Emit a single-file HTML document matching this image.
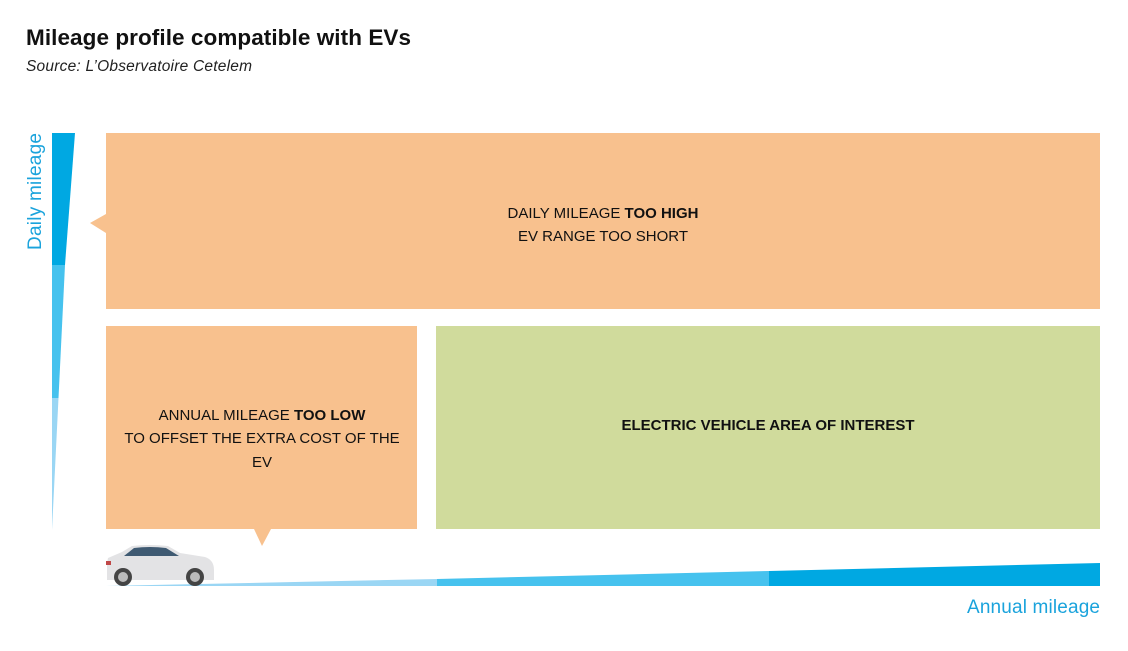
<!DOCTYPE html>
<html><head><meta charset="utf-8"><style>
html,body{margin:0;padding:0;background:#fff;}
body{width:1128px;height:646px;overflow:hidden;font-family:"Liberation Sans",sans-serif;}
</style></head><body>
<svg width="1128" height="646" xmlns="http://www.w3.org/2000/svg" font-family="Liberation Sans, sans-serif">
<text x="26" y="45" font-size="22.5" font-weight="bold" fill="#111" textLength="385">Mileage profile compatible with EVs</text>
<text x="26" y="71" font-size="15.5" font-style="italic" fill="#222" textLength="226">Source: L’Observatoire Cetelem</text>
<polygon points="52,133 75,133 65,265 52,265" fill="#00a8e2"/>
<polygon points="52,265 65,265 58.5,398 52,398" fill="#46c2ee"/>
<polygon points="52,398 58.5,398 52,530" fill="#9ad6f4"/>
<text transform="translate(41,250) rotate(-90)" font-size="19" fill="#1aa3dc" textLength="117">Daily mileage</text>
<rect x="106" y="133" width="994" height="176" fill="#f8c18e"/>
<polygon points="106,214 90,223 106,233" fill="#f8c18e"/>
<rect x="106" y="326" width="311" height="203" fill="#f8c18e"/>
<polygon points="254,529 271,529 262,546" fill="#f8c18e"/>
<rect x="436" y="326" width="664" height="203" fill="#d0db9c"/>
<g font-size="15" fill="#111" text-anchor="middle">
<text x="603" y="218">DAILY MILEAGE <tspan font-weight="bold">TOO HIGH</tspan></text>
<text x="603" y="241">EV RANGE TOO SHORT</text>
<text x="262" y="420">ANNUAL MILEAGE <tspan font-weight="bold">TOO LOW</tspan></text>
<text x="262" y="443">TO OFFSET THE EXTRA COST OF THE</text>
<text x="262" y="467">EV</text>
<text x="768" y="430" font-weight="bold">ELECTRIC VEHICLE AREA OF INTEREST</text>
</g>
<polygon points="106,586 437,579 437,586" fill="#9ad6f4"/>
<polygon points="437,579 769,571 769,586 437,586" fill="#46c2ee"/>
<polygon points="769,571 1100,563 1100,586 769,586" fill="#00a8e2"/>
<text x="967" y="613" font-size="19" fill="#1aa3dc" textLength="133">Annual mileage</text>
<g>
<path d="M107,563 L108,558 L122,552 L132,546 Q150,544 168,546 L180,553 L205,557 Q214,560 214,570 L214,580 L107,580 Z" fill="#e3e3e5"/>
<path d="M124,556 L134,548 Q150,546 166,548 L179,556 Z" fill="#3f5a72"/>
<rect x="106" y="561" width="5" height="4" fill="#c04848"/>
<circle cx="123" cy="577" r="9" fill="#444"/><circle cx="123" cy="577" r="5" fill="#bbb"/>
<circle cx="195" cy="577" r="9" fill="#444"/><circle cx="195" cy="577" r="5" fill="#bbb"/>
</g>
</svg>
</body></html>
